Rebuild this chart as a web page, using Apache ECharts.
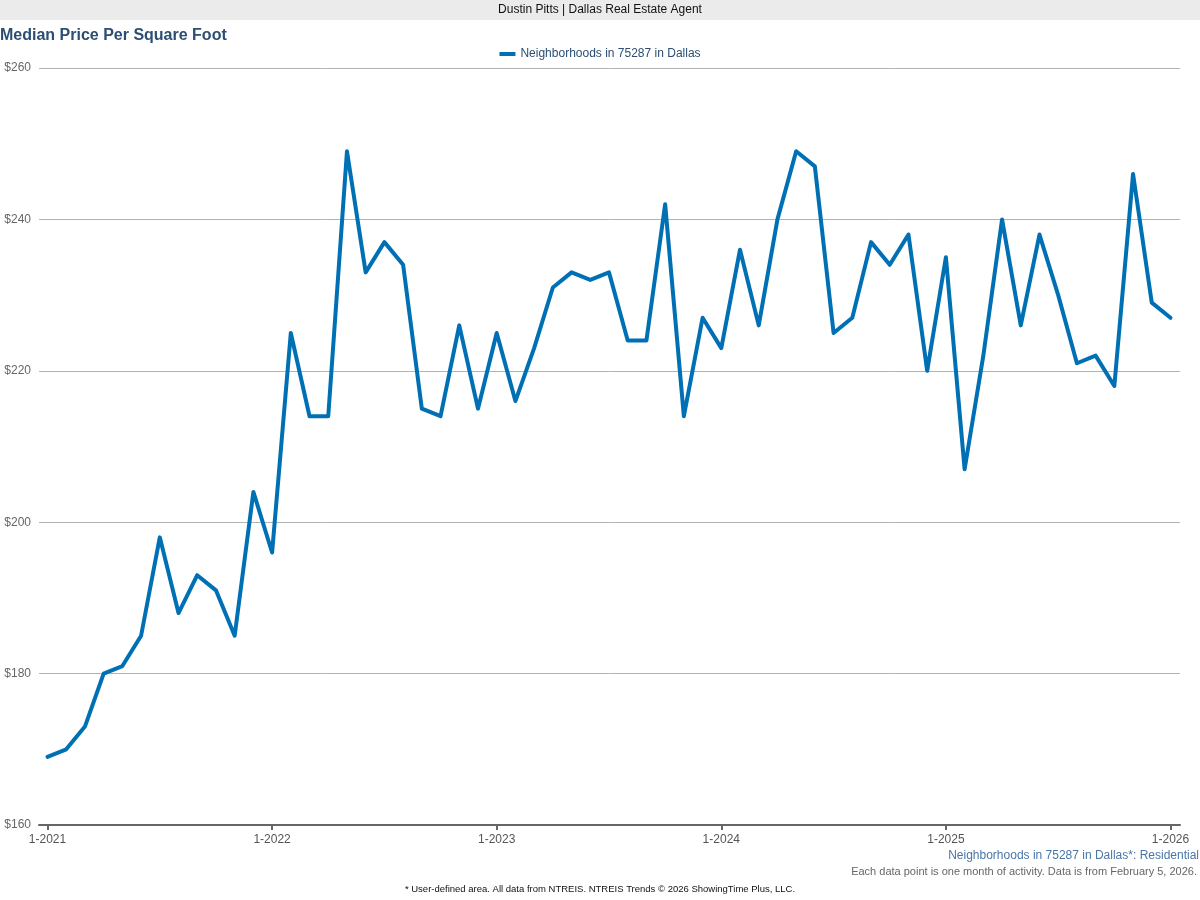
<!DOCTYPE html>
<html>
<head>
<meta charset="utf-8">
<script src="https://cdn.jsdelivr.net/npm/echarts@6/dist/echarts.min.js"></script>
<style>html,body{margin:0;padding:0;background:#fff}#c{width:1200px;height:900px}</style>
</head>
<body>
<div id="c"></div>
<script>
const months = [];
for (let y = 2021; y <= 2026; y++) for (let m = 1; m <= 12; m++) { if (y === 2026 && m > 1) break; months.push(m + '-' + y); }
const seriesName = 'Neighborhoods in 75287 in Dallas';
const values = [169,170,173,180,181,185,198,188,193,191,185,204,
  196,225,214,214,249,233,237,234,215,214,226,215,
  225,216,223,231,233,232,233,224,224,242,214,227,
  223,236,226,240,249,247,225,227,237,234,238,220,
  235,207,222,240,226,238,230,221,222,218,246,229,
  227];
const tickIdx = [0,12,24,36,48,60];
const yTicks = [160,180,200,220,240,260];
const FONT = '"Liberation Sans", Arial, sans-serif';

const chart = echarts.init(document.getElementById('c'), null, {renderer:'canvas'});
chart.setOption({
  animation:false,
  textStyle:{fontFamily:FONT},
  graphic:[
    {type:'rect', shape:{x:0,y:0,width:1200,height:20}, style:{fill:'#ebebeb'}, silent:true},
    {type:'text', x:600, y:10, style:{text:'Dustin Pitts | Dallas Real Estate Agent', font:'12px '+FONT, fill:'#111', align:'center', verticalAlign:'middle'}},
    {type:'text', x:0, y:36, style:{text:'Median Price Per Square Foot', font:'bold 16px '+FONT, fill:'#2b4e72', align:'left', verticalAlign:'middle'}},
    {type:'text', x:1199, y:856, style:{text:'Neighborhoods in 75287 in Dallas*: Residential', font:'12px '+FONT, fill:'#4a76a8', align:'right', verticalAlign:'middle'}},
    {type:'text', x:1197, y:872, style:{text:'Each data point is one month of activity. Data is from February 5, 2026.', font:'11px '+FONT, fill:'#666', align:'right', verticalAlign:'middle'}},
    {type:'text', x:600, y:889, style:{text:'* User-defined area. All data from NTREIS. NTREIS Trends \u00a9 2026 ShowingTime Plus, LLC.', font:'9.5px '+FONT, fill:'#111', align:'center', verticalAlign:'middle'}}
  ],
  legend:{
    top:48, left:'center', icon:'rect', itemWidth:16, itemHeight:4, itemGap:4,
    padding:0,
    textStyle:{color:'#2c4e72', fontSize:12, fontFamily:FONT},
    data:[seriesName]
  },
  grid:{left:39, right:20, top:68, bottom:75, containLabel:false},
  xAxis:{
    type:'value', min:-0.454, max:60.508,
    axisLine:{show:true, onZero:false, lineStyle:{color:'#666', width:2}},
    axisTick:{show:true, customValues:tickIdx, length:5, lineStyle:{color:'#666', width:2}},
    axisLabel:{customValues:tickIdx, formatter:v => months[Math.round(v)], color:'#555', fontSize:12, fontFamily:FONT, margin:9},
    splitLine:{show:false}
  },
  yAxis:{
    type:'value', min:yTicks[0], max:yTicks[yTicks.length-1], interval:20,
    axisLine:{show:false}, axisTick:{show:false},
    axisLabel:{formatter:v => '$' + v, color:'#666', fontSize:12, fontFamily:FONT, margin:8},
    splitLine:{show:true, lineStyle:{color:'#b3b3b3', width:1}}
  },
  series:[{
    name:seriesName, type:'line', showSymbol:false, symbol:'none',
    data:values.map((v,i)=>[i,v]),
    lineStyle:{color:'#0070b5', width:4, join:'round', cap:'round'},
    itemStyle:{color:'#0070b5'}
  }]
});
</script>
</body>
</html>
